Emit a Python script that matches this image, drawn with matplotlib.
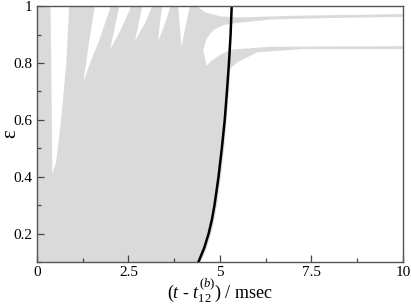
import numpy as np
import matplotlib
matplotlib.use("Agg")
import matplotlib.pyplot as plt
from matplotlib.ticker import MultipleLocator, FormatStrFormatter

# ---------------------------------------------------------
# data
# ---------------------------------------------------------

# black boundary curve
curve_eps = [0.10, 0.15, 0.20, 0.25, 0.30, 0.40, 0.50, 0.60, 0.70, 0.80, 0.90, 1.00]
curve_t = [4.41, 4.57, 4.69, 4.78, 4.85, 4.96, 5.05, 5.13, 5.19, 5.245, 5.29, 5.32]

# right edge of the grey region (slightly outside the black curve)
grey_t = [4.46, 4.62, 4.74, 4.83, 4.90, 5.01, 5.10, 5.17, 5.23, 5.28, 5.32, 5.35]

# white fingers coming down from the top (t, eps outlines)
f1_t = [0.37, 0.39, 0.41, 0.42, 0.52, 0.66, 0.80, 0.88]
f1_eps = [1.00, 0.80, 0.55, 0.41, 0.45, 0.60, 0.80, 1.00]
f2_t = [1.58, 1.42, 1.27, 1.45, 1.70, 2.02]
f2_eps = [1.00, 0.87, 0.734, 0.80, 0.88, 1.00]
f3_t = [2.25, 2.12, 2.00, 2.30, 2.58]
f3_eps = [1.00, 0.92, 0.848, 0.92, 1.00]
f4_t = [2.88, 2.78, 2.68, 2.95, 3.15]
f4_eps = [1.00, 0.94, 0.878, 0.94, 1.00]
f5_t = [3.42, 3.36, 3.31, 3.50, 3.65]
f5_eps = [1.00, 0.94, 0.875, 0.94, 1.00]
f6_t = [3.86, 3.90, 3.95, 4.06, 4.18]
f6_eps = [1.00, 0.93, 0.857, 0.93, 1.00]

# white area above the upper thin band
top_t = [4.37, 4.60, 5.00, 5.50, 7.00, 10.0, 10.0]
top_eps = [1.00, 0.978, 0.964, 0.960, 0.966, 0.972, 1.00]

# white gap between the two thin bands (curl)
gap_t = [4.64, 4.54, 4.64, 4.82, 5.09, 5.30, 6.40, 8.00, 10.0,
         10.0, 8.00, 6.40, 5.30, 5.00, 4.73]
gap_eps = [0.790, 0.845, 0.886, 0.916, 0.933, 0.938, 0.953, 0.958, 0.962,
           0.859, 0.858, 0.857, 0.847, 0.828, 0.804]

# lower edge of the lower thin band, and upper edge of upper band
band_t = [4.30, 5.25, 5.46, 6.00, 7.27, 10.0]
band_low = [0.78, 0.78, 0.804, 0.839, 0.851, 0.851]
band_up = [1.00, 0.98, 0.975, 0.97, 0.97, 0.975]

GREY = "#dadada"

plt.rcParams["font.family"] = "Liberation Serif"
plt.rcParams["mathtext.fontset"] = "custom"
plt.rcParams["mathtext.rm"] = "Liberation Serif"
plt.rcParams["mathtext.it"] = "Liberation Serif:italic"

fig = plt.figure(figsize=(4.11, 3.04), dpi=100)
ax = fig.add_axes([0.090, 0.138, 0.8905, 0.842])

# grey region
ax.fill_betweenx(curve_eps, 0, grey_t, color=GREY, lw=0)
ax.fill_between(band_t, band_low, band_up, color=GREY, lw=0)

# white cut-outs
for ft, fe in [(f1_t, f1_eps), (f2_t, f2_eps), (f3_t, f3_eps), (f4_t, f4_eps),
               (f5_t, f5_eps), (f6_t, f6_eps), (top_t, top_eps), (gap_t, gap_eps)]:
    ax.fill(ft, fe, color="white", lw=0)

# black curve
ax.plot(curve_t, curve_eps, color="black", lw=1.8)

ax.set_xlim(0, 10)
ax.set_ylim(0.1, 1.0)
ax.xaxis.set_major_locator(MultipleLocator(2.5))
ax.xaxis.set_minor_locator(MultipleLocator(1.25))
ax.yaxis.set_major_locator(MultipleLocator(0.2))
ax.yaxis.set_minor_locator(MultipleLocator(0.1))
ax.xaxis.set_major_formatter(FormatStrFormatter("%g"))
ax.yaxis.set_major_formatter(FormatStrFormatter("%g"))
ax.tick_params(which="both", direction="in", labelsize=11, color="#444444")
ax.tick_params(which="major", length=5, width=0.9)
ax.tick_params(which="minor", length=3, width=0.9)
ax.tick_params(axis="x", pad=2.5)
for s in ax.spines.values():
    s.set_color("#555555")
    s.set_linewidth(1.0)

ax.set_ylabel("ε", fontsize=15)
ax.yaxis.set_label_coords(-0.045, 0.5)
ax.set_xlabel(r"$(t$ - $t^{(b)}_{12})$ / msec", fontsize=13)
ax.xaxis.set_label_coords(0.5, -0.058)

fig.savefig("out.png", dpi=100)
